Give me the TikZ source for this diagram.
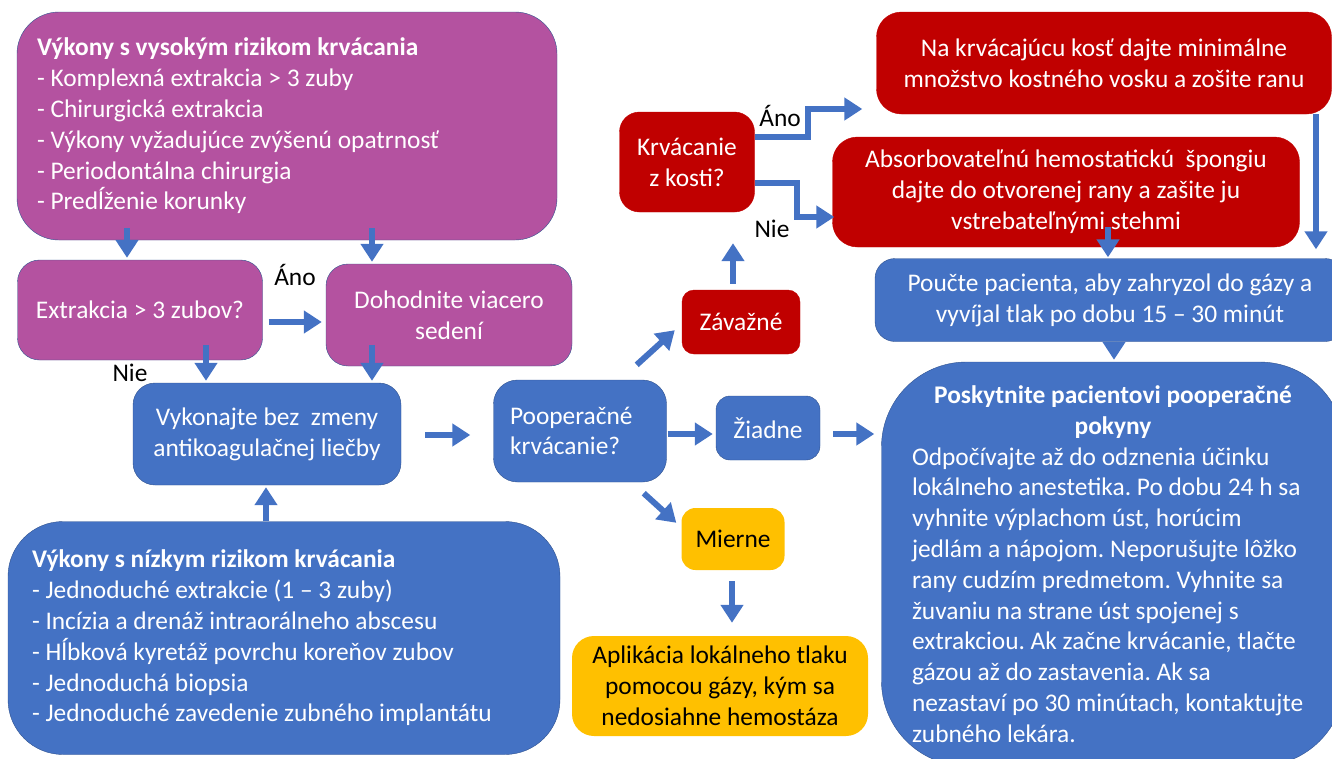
\documentclass[tikz,border=0pt]{standalone}
\usepackage{fontspec}
\setmainfont{Carlito}
\usetikzlibrary{arrows.meta,positioning}
\definecolor{riskPurple}{RGB}{180,82,160}
\definecolor{flowBlue}{RGB}{68,114,196}
\definecolor{edgeBlue}{RGB}{47,82,143}
\definecolor{severeRed}{RGB}{192,0,0}
\definecolor{mildYellow}{RGB}{255,192,0}
\setlength{\parindent}{0pt}
\frenchspacing

\begin{document}
\begin{tikzpicture}[x=1pt, y=-1pt,
  every node/.style={font=\fontsize{25.4}{30.8}\selectfont},
  purplebox/.style={draw=edgeBlue, fill=riskPurple, text=white, align=center, inner sep=0pt},
  bluebox/.style={draw=edgeBlue, fill=flowBlue, text=white, align=center, inner sep=0pt},
  redbox/.style={draw=severeRed, fill=severeRed, text=white, align=center, inner sep=0pt},
  yellowbox/.style={fill=mildYellow, text=black, align=center, inner sep=0pt},
  flow/.style={draw=flowBlue, line width=6pt, -{Triangle[width=22pt,length=18pt]}},
  answer/.style={text=black, inner sep=0pt},
]
\useasboundingbox (0,0) rectangle (1332,758);
\clip (0,0) rectangle (1332,758);

% Left column: risk groups
\node[purplebox, rounded corners=42pt, minimum width=540pt, minimum height=228pt,
      align=flush left, text width=500pt] (hirisk) at (287,126)
  {\textbf{Výkony s vysokým rizikom krvácania}\\
   - Komplexná extrakcia > 3 zuby\\
   - Chirurgická extrakcia\\
   - Výkony vyžadujúce zvýšenú opatrnosť\\
   - Periodontálna chirurgia\\
   - Predĺženie korunky};
\node[purplebox, rounded corners=22pt, minimum width=245pt, minimum height=100pt]
  (extr) at (140,310) {Extrakcia > 3 zubov?};
\node[purplebox, rounded corners=22pt, minimum width=246pt, minimum height=102pt]
  (sessions) at (449,315) {Dohodnite viacero\\sedení};
\node[bluebox, rounded corners=22pt, minimum width=268pt, minimum height=102pt]
  (vyko) at (267,434) {Vykonajte bez\ \ zmeny\\antikoagulačnej liečby};
\node[bluebox, rounded corners=55pt, minimum width=552pt, minimum height=233pt,
      align=flush left, text width=504pt] (lorisk) at (284,638)
  {\textbf{Výkony s nízkym rizikom krvácania}\\
   - Jednoduché extrakcie (1 -- 3 zuby)\\
   - Incízia a drenáž intraorálneho abscesu\\
   - Hĺbková kyretáž povrchu koreňov zubov\\
   - Jednoduchá biopsia\\
   - Jednoduché zavedenie zubného implantátu};

% Middle: postoperative bleeding
\node[bluebox, rounded corners=24pt, minimum width=173pt, minimum height=102pt,
      align=flush left, text width=140pt] (pooper) at (580,431) {Pooperačné\\krvácanie?};
\node[redbox, rounded corners=12pt, minimum width=118pt, minimum height=64pt]
  (zav) at (741,322) {Závažné};
\node[bluebox, rounded corners=14pt, minimum width=104pt, minimum height=64pt]
  (ziadne) at (768,428) {Žiadne};
\node[yellowbox, rounded corners=14pt, minimum width=103pt, minimum height=62pt]
  (mierne) at (733,539) {Mierne};
\node[yellowbox, rounded corners=22pt, minimum width=296pt, minimum height=100pt]
  (aplik) at (720,686) {Aplikácia lokálneho tlaku\\pomocou gázy, kým sa\\nedosiahne hemostáza};
\node[redbox, rounded corners=20pt, minimum width=135pt, minimum height=100pt]
  (krvkost) at (687,162) {Krvácanie\\z kosti?};

% Right column
\node[redbox, rounded corners=25pt, minimum width=455pt, minimum height=102pt]
  (wax) at (1104,63) {Na krvácajúcu kosť dajte minimálne\\množstvo kostného vosku a zošite ranu};
\node[redbox, rounded corners=25pt, minimum width=467pt, minimum height=110pt]
  (sponge) at (1066,192) {Absorbovateľnú hemostatickú\ \ špongiu\\dajte do otvorenej rany a zašite ju\\vstrebateľnými stehmi};
\node[bluebox, rounded corners=20pt, minimum width=470pt, minimum height=83pt]
  (poucte) at (1110,300) {Poučte pacienta, aby zahryzol do gázy a\\vyvíjal tlak po dobu 15 -- 30 minút};
\node[bluebox, rounded corners=85pt, minimum width=463pt, minimum height=404pt,
      align=none, text width=402pt] (pokyny) at (1113,564)
  {\centering\textbf{Poskytnite pacientovi pooperačné\\pokyny}\par
   \raggedright Odpočívajte až do odznenia účinku\\
   lokálneho anestetika. Po dobu 24 h sa\\
   vyhnite výplachom úst, horúcim\\
   jedlám a nápojom. Neporušujte lôžko\\
   rany cudzím predmetom. Vyhnite sa\\
   žuvaniu na strane úst spojenej s\\
   extrakciou. Ak začne krvácanie, tlačte\\
   gázou až do zastavenia. Ak sa\\
   nezastaví po 30 minútach, kontaktujte\\
   zubného lekára.\par};

% Answer labels
\node[answer] (ano1) at (295,275) {Áno};
\node[answer] (nie1) at (130,373) {Nie};
\node[answer] (ano2) at (780,116) {Áno};
\node[answer] (nie2) at (772,229) {Nie};

% Arrows
\draw[flow] ([xshift=-160pt,yshift=12pt]hirisk.south) -- ([xshift=-13pt,yshift=2pt]extr.north);
\draw[flow] ([xshift=85pt,yshift=12pt]hirisk.south) -- ([xshift=-77pt,yshift=2pt]sessions.north);
\draw[flow] ([xshift=6pt,yshift=-12pt]extr.east) -- ([xshift=-4pt,yshift=-7pt]sessions.west);
\draw[flow] ([xshift=66pt,yshift=15pt]extr.south) -- ([xshift=-61pt,yshift=2pt]vyko.north);
\draw[flow] ([xshift=-77pt,yshift=21pt]sessions.south) -- ([xshift=105pt,yshift=2pt]vyko.north);
\draw[flow] ([xshift=-18pt]lorisk.north) -- ([xshift=-1pt,yshift=-2pt]vyko.south);
\draw[flow] ([xshift=24pt,yshift=-1pt]vyko.east) -- ([xshift=-23pt,yshift=-4pt]pooper.west);
\draw[flow] ([xshift=-30pt,yshift=15pt]pooper.north east) -- ([xshift=-7pt,yshift=24pt]zav.south west);
\draw[flow] ([xshift=1pt,yshift=-3pt]pooper.east) -- ([xshift=-3pt,yshift=-6pt]ziadne.west);
\draw[flow] ([xshift=-23pt,yshift=-11pt]pooper.south east) -- ([xshift=-5pt,yshift=-15pt]mierne.north west);
\draw[flow] ([xshift=-1pt,yshift=-11pt]mierne.south) -- ([xshift=12pt,yshift=13pt]aplik.north);
\draw[flow] ([xshift=13pt,yshift=-6pt]ziadne.east) -- ([xshift=-7pt,yshift=130pt]pokyny.west);
\draw[flow] ([xshift=-8pt,yshift=6pt]zav.north) -- ([xshift=46pt,yshift=-31pt]krvkost.south);
\draw[flow] ([yshift=25pt]krvkost.east) -- ++(53,0) |- ([xshift=-14pt,yshift=-46pt]wax.west);
\draw[flow] ([yshift=-21pt]krvkost.east) -- ++(42,0) |- ([xshift=2pt,yshift=-25pt]sponge.west);
\draw[flow] ([xshift=212pt]wax.south) -- ([xshift=206pt,yshift=9pt]poucte.north);
\draw[flow] ([xshift=42pt,yshift=20pt]sponge.south) -- ([xshift=-2pt,yshift=1pt]poucte.north);
\draw[flow] ([xshift=4pt]poucte.south) -- ([xshift=1pt,yshift=2pt]pokyny.north);
\end{tikzpicture}
\end{document}
